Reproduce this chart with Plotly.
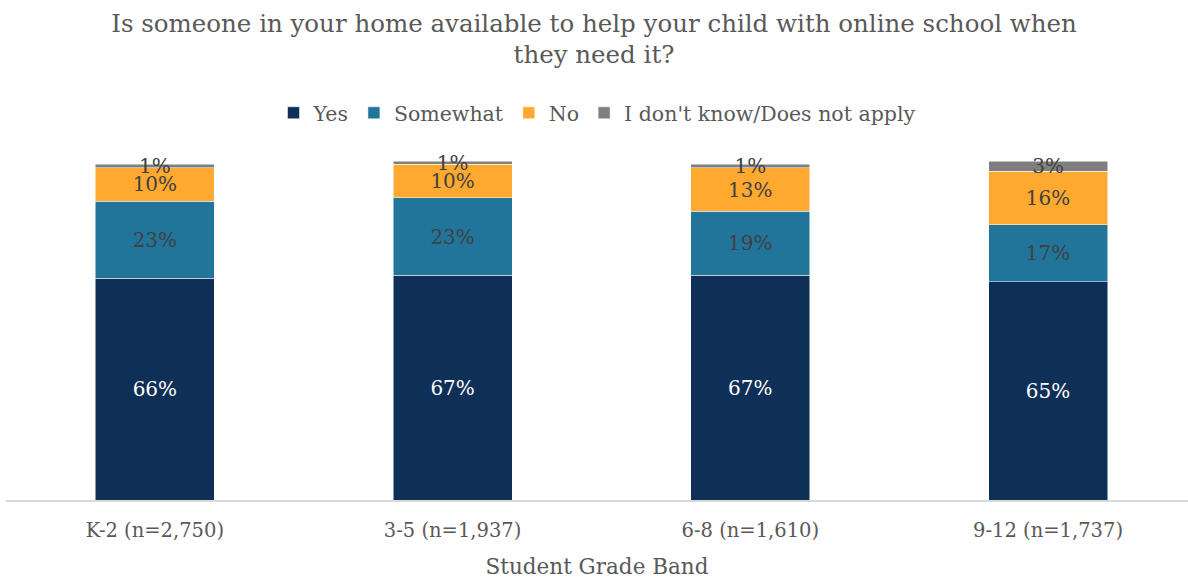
import plotly.graph_objects as go

categories = ["K-2 (n=2,750)", "3-5 (n=1,937)", "6-8 (n=1,610)", "9-12 (n=1,737)"]
yes = [66, 67, 67, 65]
somewhat = [23, 23, 19, 17]
no = [10, 10, 13, 16]
dont_know = [1, 1, 1, 3]

series = [
    ("Yes", yes, "#0E2F56", "#FFFFFF"),
    ("Somewhat", somewhat, "#21759B", "#404040"),
    ("No", no, "#FFA931", "#404040"),
    ("I don't know/Does not apply", dont_know, "#7F7F7F", "#404040"),
]

FONT = "DejaVu Serif"
W, H = 1188, 579
M_TOP, M_BOT = 161, 79
plot_h = H - M_TOP - M_BOT

fig = go.Figure()
for name, vals, color, tcolor in series:
    fig.add_trace(go.Bar(
        name=name,
        x=categories,
        y=vals,
        marker=dict(color=color, line=dict(width=0.5, color="#FFFFFF")),
        text=[f"{v}%" for v in vals],
        textposition="inside",
        insidetextanchor="middle",
        textangle=0,
        constraintext="none",
        cliponaxis=False,
        textfont=dict(family=FONT, size=20, color=tcolor),
        hoverinfo="skip",
    ))

fig.update_layout(
    barmode="stack",
    bargap=0.6,
    width=W,
    height=H,
    paper_bgcolor="#FFFFFF",
    plot_bgcolor="#FFFFFF",
    margin=dict(l=6, r=0, t=M_TOP, b=M_BOT),
    uniformtext=dict(minsize=20, mode="show"),
    title=dict(
        text="Is someone in your home available to help your child with online school when<br>they need it?",
        x=0.5, xanchor="center", y=1 - 31.5 / H, yanchor="middle",
        font=dict(family=FONT, size=24.5, color="#595959"),
    ),
    legend=dict(
        orientation="h", x=0.5, xanchor="center",
        y=(H - M_BOT - 113) / plot_h, yanchor="middle",
        font=dict(family=FONT, size=20.5, color="#595959"),
        traceorder="normal",
        itemwidth=30,
    ),
    xaxis=dict(
        range=[-0.5, 3.47],
        showline=True, linecolor="#D9D9D9", linewidth=1.5,
        ticks="", showgrid=False,
        ticklabelstandoff=12,
        tickfont=dict(family=FONT, size=19.5, color="#595959"),
        title=dict(text="Student Grade Band", font=dict(family=FONT, size=21.5, color="#595959"), standoff=22),
    ),
    yaxis=dict(range=[0, 101], visible=False, showgrid=False),
)

fig.write_html("out.html")
